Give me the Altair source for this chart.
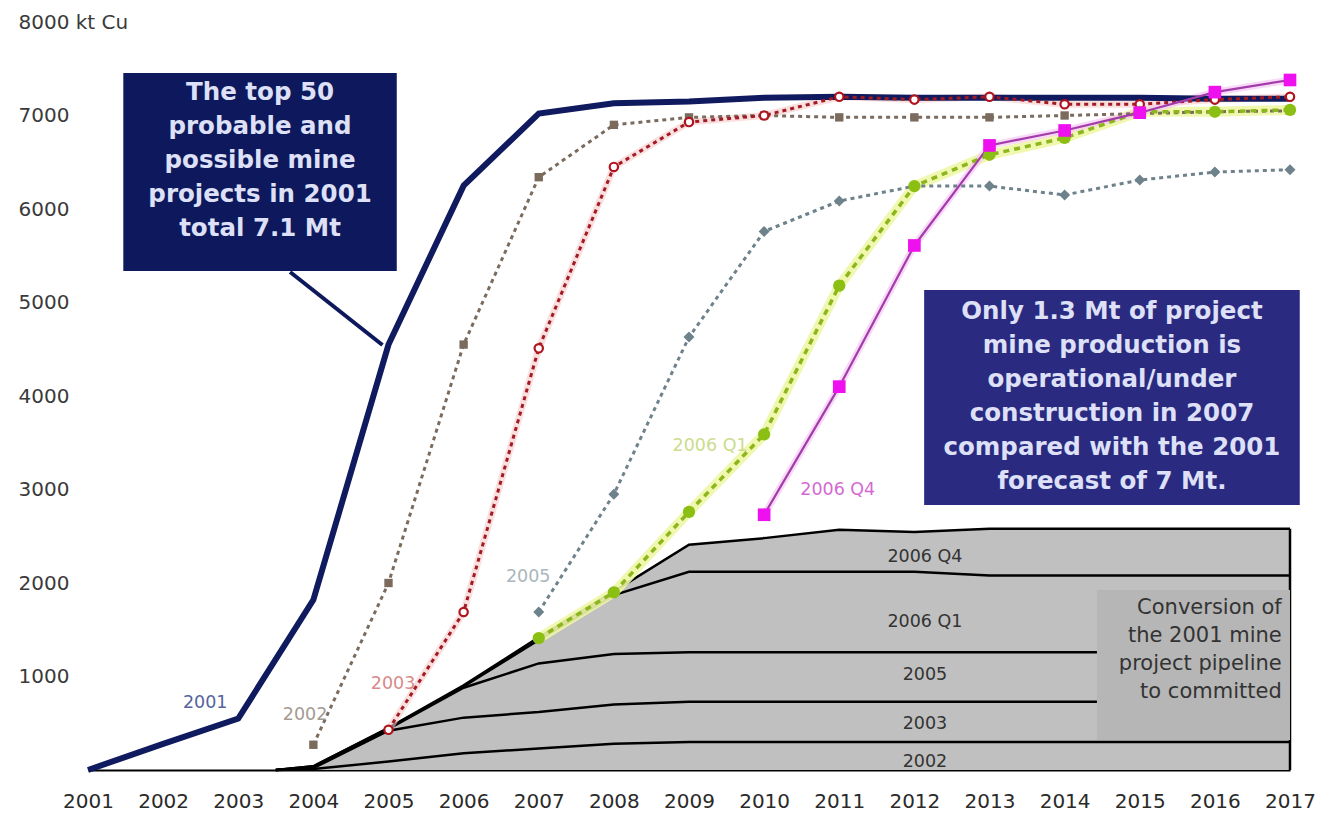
import altair as alt
import pandas as pd

# ---------------- data ----------------
years = list(range(2001, 2018))

f2001 = [0, 280, 550, 1820, 4550, 6250, 7020, 7130, 7150, 7190, 7200, 7190, 7190, 7190, 7190, 7180, 7180]

f2002_years = list(range(2004, 2018))
f2002 = [270, 2000, 4550, 6340, 6900, 6980, 7000, 6980, 6980, 6980, 7000, 7020, 7040, 7050]

f2003_years = list(range(2005, 2018))
f2003 = [430, 1690, 4510, 6450, 6930, 7000, 7200, 7170, 7200, 7120, 7120, 7170, 7200]

f2005_years = list(range(2007, 2018))
f2005 = [1690, 2950, 4630, 5760, 6085, 6245, 6245, 6150, 6310, 6395, 6420]

f2006q1_years = list(range(2007, 2018))
f2006q1 = [1410, 1900, 2760, 3590, 5180, 6245, 6580, 6760, 7040, 7040, 7060]

f2006q4_years = list(range(2010, 2018))
f2006q4 = [2730, 4100, 5610, 6680, 6840, 7030, 7250, 7380]

# committed (stacked) pipeline, cumulative tops of each layer
stack_years = [2003.5, 2004, 2005, 2006, 2007, 2008, 2009, 2010, 2011, 2012, 2013, 2014, 2015, 2016, 2017]
top_2002 = [0, 10, 90, 180, 230, 280, 300, 300, 300, 300, 300, 300, 300, 300, 300]
top_2003 = [0, 20, 420, 560, 620, 700, 730, 730, 730, 730, 730, 730, 730, 730, 730]
top_2005 = [0, 30, 440, 880, 1140, 1240, 1260, 1260, 1260, 1260, 1260, 1260, 1260, 1260, 1260]
top_q1 = [0, 40, 445, 895, 1390, 1870, 2120, 2120, 2120, 2120, 2080, 2080, 2080, 2080, 2080]
top_q4 = [0, 40, 450, 905, 1420, 1910, 2410, 2480, 2570, 2545, 2580, 2580, 2580, 2580, 2580]

layer_names = ["2002", "2003", "2005", "2006 Q1", "2006 Q4"]
layer_label_y = [86, 492, 1016, 1583, 2278]

series_labels = ["2001", "2002", "2003", "2005", "2006 Q1", "2006 Q4"]
series_label_x = [2002.56, 2003.89, 2005.06, 2006.86, 2009.28, 2010.98]
series_label_y = [717, 588, 920, 2064, 3465, 2995]
series_label_col = ["#5563a0", "#a39a92", "#d98a8a", "#aab6bd", "#cbdc8c", "#d36ad3"]

FONT = "DejaVu Sans"

xscale = alt.Scale(domain=[2001, 2017], nice=False, zero=False)
yscale = alt.Scale(domain=[0, 8000], nice=False)
xaxis = alt.Axis(values=years, format="d", ticks=False, grid=False, domain=True,
                 domainColor="#000000", domainWidth=2, labelFontSize=20,
                 labelColor="#2a2a2a", labelPadding=21, labelFont=FONT, title=None,
                 labelFlush=False, labelOverlap=False, labelBound=False)
yaxis = alt.Axis(values=[1000, 2000, 3000, 4000, 5000, 6000, 7000, 8000], ticks=False,
                 grid=False, domain=False, labelAlign="left", labelPadding=70,
                 labelFontSize=20, labelColor="#3a3a3a", labelFont=FONT,
                 labelFlush=False, labelOverlap=False, labelBound=False,
                 labelExpr="datum.value == 8000 ? '8000  kt Cu' : datum.value", title=None)


def X(f):
    return alt.X(f, type="quantitative", scale=xscale, axis=xaxis, title=None)


def Y(f):
    return alt.Y(f, type="quantitative", scale=yscale, axis=yaxis, title=None)


def X2(f):
    return alt.X2(f)


def Y2(f):
    return alt.Y2(f)


# ---------------- committed area ----------------
stack_df = pd.DataFrame({"year": stack_years, "t2002": top_2002, "t2003": top_2003,
                         "t2005": top_2005, "tq1": top_q1, "tq4": top_q4,
                         "zero": [0] * len(stack_years)})

area = alt.Chart(stack_df).mark_area(color="#c0c0c0", opacity=1).encode(
    x=X("year"), y=Y("tq4"), y2=Y2("zero"))

bounds = []
for col in ["t2002", "t2003", "t2005", "tq1", "tq4"]:
    bounds.append(alt.Chart(stack_df).mark_line(color="#000000", strokeWidth=2.5).encode(
        x=X("year"), y=Y(col)))

edge_df = pd.DataFrame({"x": [2017], "y": [0], "y2": [top_q4[-1]]})
edge = alt.Chart(edge_df).mark_rule(color="#000000", strokeWidth=2.5).encode(
    x=X("x"), y=Y("y"), y2=Y2("y2"))

conv_df = pd.DataFrame({"x": [2014.43], "x2": [2017], "y": [321], "y2": [1925]})
conv_rect = alt.Chart(conv_df).mark_rect(color="#b6b6b6").encode(
    x=X("x"), x2=X2("x2"), y=Y("y"), y2=Y2("y2"))

conv_text_df = pd.DataFrame({"x": [2016.89], "y": [1733],
                             "t": ["Conversion of\nthe 2001 mine\nproject pipeline\nto committed"]})
conv_text = alt.Chart(conv_text_df).mark_text(
    align="right", baseline="middle", lineBreak="\n", lineHeight=28, fontSize=21,
    font=FONT, color="#333333").encode(x=X("x"), y=Y("y"), text="t:N")

lay_df = pd.DataFrame({"x": [2012.14] * 5, "y": layer_label_y, "t": layer_names})
lay_text = alt.Chart(lay_df).mark_text(fontSize=17.5, font=FONT, color="#333333",
                                       baseline="middle").encode(
    x=X("x"), y=Y("y"), text="t:N")

# ---------------- forecast lines ----------------
def sdf(xs, vs):
    return pd.DataFrame({"year": xs, "value": vs})


d2001 = sdf(years, f2001)
d2002 = sdf(f2002_years, f2002)
d2003 = sdf(f2003_years, f2003)
d2005 = sdf(f2005_years, f2005)
dq1 = sdf(f2006q1_years, f2006q1)
dq4 = sdf(f2006q4_years, f2006q4)

halo3 = alt.Chart(d2003).mark_line(color="#f8caca", strokeWidth=7, opacity=0.6).encode(
    x=X("year"), y=Y("value"))
haloq1 = alt.Chart(dq1).mark_line(color="#eef7a6", strokeWidth=10, opacity=0.9).encode(
    x=X("year"), y=Y("value"))
haloq4 = alt.Chart(dq4).mark_line(color="#f6c8f6", strokeWidth=7, opacity=0.7).encode(
    x=X("year"), y=Y("value"))

l2001 = alt.Chart(d2001).mark_line(color="#101a5e", strokeWidth=6).encode(
    x=X("year"), y=Y("value"))
l2002 = alt.Chart(d2002).mark_line(color="#7a6b5d", strokeWidth=3, strokeDash=[4, 4]).encode(
    x=X("year"), y=Y("value"))
p2002 = alt.Chart(d2002).mark_point(shape="square", filled=True, size=70, color="#7a6b5d",
                                    opacity=1).encode(x=X("year"), y=Y("value"))
l2003 = alt.Chart(d2003).mark_line(color="#a11b25", strokeWidth=3, strokeDash=[4, 4]).encode(
    x=X("year"), y=Y("value"))
p2003 = alt.Chart(d2003).mark_point(shape="circle", filled=False, size=70, color="#b0141e",
                                    strokeWidth=2.2, fill="#ffffff", fillOpacity=1,
                                    opacity=1).encode(x=X("year"), y=Y("value"))
l2005 = alt.Chart(d2005).mark_line(color="#6d828b", strokeWidth=3, strokeDash=[4, 4]).encode(
    x=X("year"), y=Y("value"))
p2005 = alt.Chart(d2005).mark_point(shape="diamond", filled=True, size=120, color="#6d828b",
                                    opacity=1).encode(x=X("year"), y=Y("value"))
lq1 = alt.Chart(dq1).mark_line(color="#8cb51e", strokeWidth=3.5, strokeDash=[6, 5]).encode(
    x=X("year"), y=Y("value"))
pq1 = alt.Chart(dq1).mark_point(shape="circle", filled=True, size=150, color="#8cbf14",
                                opacity=1).encode(x=X("year"), y=Y("value"))
lq4 = alt.Chart(dq4).mark_line(color="#a23ca8", strokeWidth=2.2).encode(
    x=X("year"), y=Y("value"))
pq4 = alt.Chart(dq4).mark_point(shape="square", filled=True, size=160, color="#ee10ee",
                                opacity=1).encode(x=X("year"), y=Y("value"))

slab_df = pd.DataFrame({"x": series_label_x, "y": series_label_y, "t": series_labels,
                        "c": series_label_col})
slab = alt.Chart(slab_df).mark_text(fontSize=17.5, font=FONT, baseline="middle").encode(
    x=X("x"), y=Y("y"), text="t:N", color=alt.Color("c:N", scale=None))

# ---------------- callout boxes ----------------
box_df = pd.DataFrame({"x": [2001.47, 2012.13], "x2": [2005.11, 2017.13],
                       "y": [5337, 2834], "y2": [7455, 5134],
                       "c": ["#0e185c", "#2a2a80"]})
boxes = alt.Chart(box_df).mark_rect().encode(
    x=X("x"), x2=X2("x2"), y=Y("y"), y2=Y2("y2"), color=alt.Color("c:N", scale=None))

arrow_df = pd.DataFrame({"x": [2003.69], "x2": [2004.92], "y": [5326], "y2": [4545]})
arrow = alt.Chart(arrow_df).mark_rule(color="#0e185c", strokeWidth=4).encode(
    x=X("x"), x2=X2("x2"), y=Y("y"), y2=Y2("y2"))

btext_df = pd.DataFrame({
    "x": [2003.29, 2014.63],
    "y": [7240, 4898],
    "t": ["The top 50\nprobable and\npossible mine\nprojects in 2001\ntotal 7.1 Mt",
          "Only 1.3 Mt of project\nmine production is\noperational/under\nconstruction in 2007\ncompared with the 2001\nforecast of 7 Mt."],
})
btext = alt.Chart(btext_df).mark_text(
    align="center", baseline="middle", lineBreak="\n", lineHeight=34, fontSize=24.5,
    fontWeight="bold", font=FONT, color="#dde0f6").encode(x=X("x"), y=Y("y"), text="t:N")

chart = alt.layer(
    area, *bounds, edge, conv_rect, conv_text, lay_text,
    halo3, haloq1, haloq4,
    l2001, l2002, l2003, l2005, lq1, lq4,
    p2002, p2003, p2005, pq1, pq4,
    slab, boxes, arrow, btext,
).properties(
    width=1202, height=748,
    autosize=alt.AutoSizeParams(type="none"),
    padding={"left": 80, "top": 14, "right": 28, "bottom": 43},
    background="#ffffff",
).configure_view(stroke=None)

chart.save("out.html", embed_options={"renderer": "svg", "actions": False})
